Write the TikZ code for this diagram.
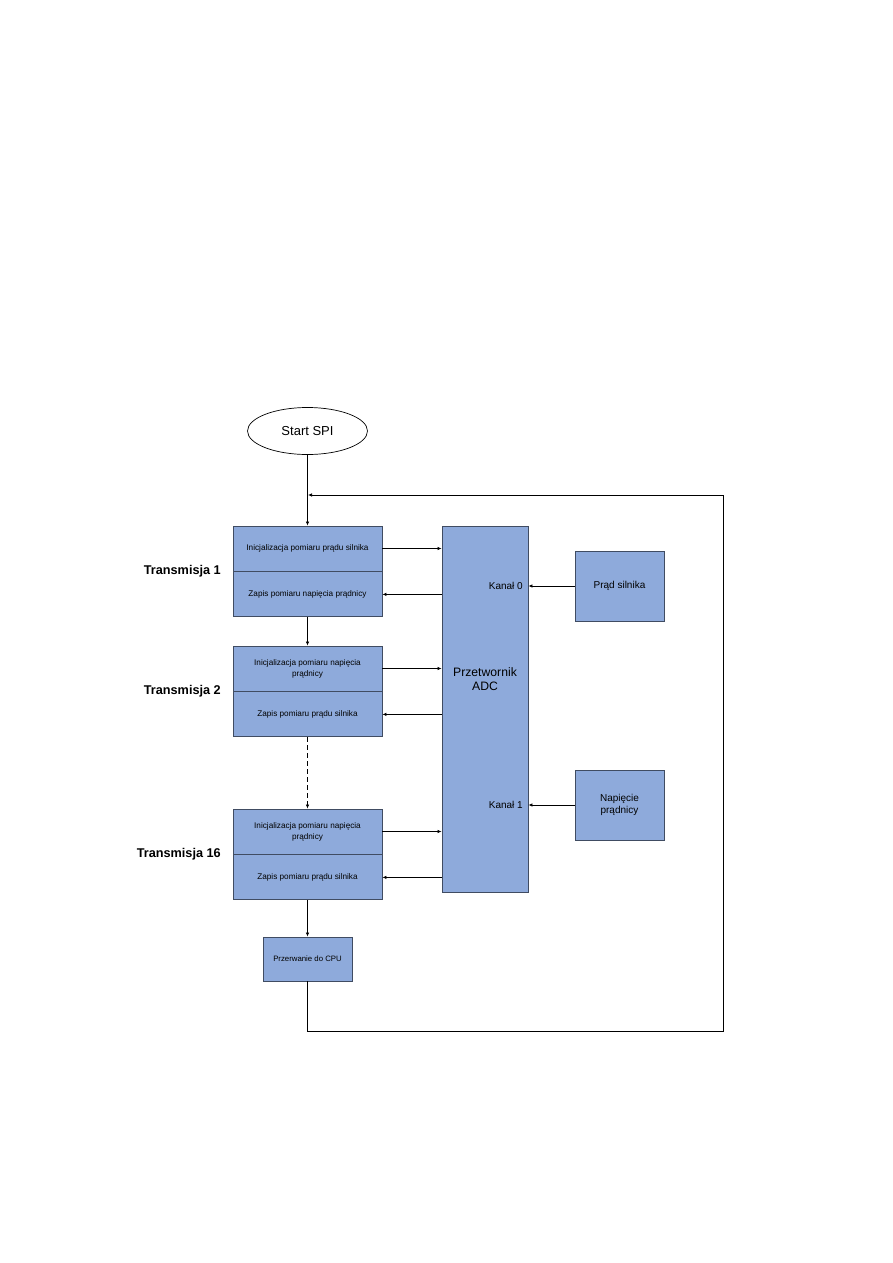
\documentclass[tikz,border=0pt]{standalone}
\usepackage{fontspec}
\setmainfont{Liberation Sans}
\usetikzlibrary{shapes.geometric,arrows.meta}
\definecolor{boxblue}{RGB}{142,170,219}
\definecolor{boxline}{RGB}{64,76,98}
\tikzstyle{half}=[draw=boxline, fill=boxblue, line width=0.9pt, minimum width=149pt, minimum height=45pt, inner sep=0, align=center, font=\fontsize{8.2}{11}\selectfont]
\tikzstyle{blk}=[draw=boxline, fill=boxblue, line width=0.9pt, minimum width=89pt, minimum height=70pt, inner sep=0, align=center, font=\fontsize{10}{12.5}\selectfont]
\tikzstyle{lbl}=[anchor=east, inner sep=0, font=\bfseries\fontsize{12.7}{15}\selectfont]
\tikzstyle{ar}=[-{Latex[length=4pt,width=3.5pt]}, line width=0.7pt]

\begin{document}
\begin{tikzpicture}[x=1pt, y=-1pt]
\useasboundingbox[fill=white] (0,0) rectangle (893,1263);
\node[ellipse, draw, line width=0.7pt, minimum width=120pt, minimum height=47pt, inner sep=0,
  font=\fontsize{13}{15}\selectfont] (start) at (307.5,431) {Start SPI};
% przetwornik
\node[draw=boxline, fill=boxblue, line width=0.9pt, minimum width=86pt, minimum height=366pt] (adc) at (485,709) {};
\node[align=center, font=\fontsize{12.2}{14.5}\selectfont] (adctxt) at (485,679) {Przetwornik\\ADC};
\node[anchor=east, inner sep=0, font=\fontsize{10}{12}\selectfont] (k0) at (523,586) {Kanał 0};
\node[anchor=east, inner sep=0, font=\fontsize{10}{12}\selectfont] (k1) at (523,805) {Kanał 1};
\node[blk] (prad) at (619.5,586) {Prąd silnika};
\node[blk] (nap) at (619.5,805) {Napięcie\\prądnicy};
\draw[ar] (prad.west) -- (prad.west -| adc.east);
\draw[ar] (nap.west) -- (nap.west -| adc.east);
% transmisje
\foreach \n/\y/\txta/\txtb in {1/548.5/{Inicjalizacja pomiaru prądu silnika}/{Zapis pomiaru napięcia prądnicy},
	2/668.5/{Inicjalizacja pomiaru napięcia\\prądnicy}/{Zapis pomiaru prądu silnika},
	16/831.5/{Inicjalizacja pomiaru napięcia\\prądnicy}/{Zapis pomiaru prądu silnika}}
	{\node[half] (up\n) at (307.5,\y) {\txta};
	\node[half, anchor=north] (lo\n) at (up\n.south) {\txtb};
	\node[lbl] (tr\n) at (221,\y+22.5) {Transmisja \n};
	\draw[ar] (up\n.east) -- (up\n.east -| adc.west);
	\draw[ar] (lo\n.east -| adc.west) -- (lo\n.east);}
\node[half, minimum width=89pt, minimum height=44pt, font=\fontsize{7.8}{10}\selectfont] (irq) at (307.5,959) {Przerwanie do CPU};
\draw[ar] (start) -- (up1);
\draw[ar] (lo1) -- (up2);
\draw[ar, dashed, dash pattern=on 5pt off 3pt] (lo2) -- (up16);
\draw[ar] (lo16) -- (irq);
% powrot
\coordinate (c1) at (723,1031);
\coordinate (c2) at (723,495);
\coordinate (join) at (308,495);
\draw[ar] (irq.south) -- (irq.south |- c1) -- (c1) -- (c2) -- (join);
\end{tikzpicture}
\end{document}
